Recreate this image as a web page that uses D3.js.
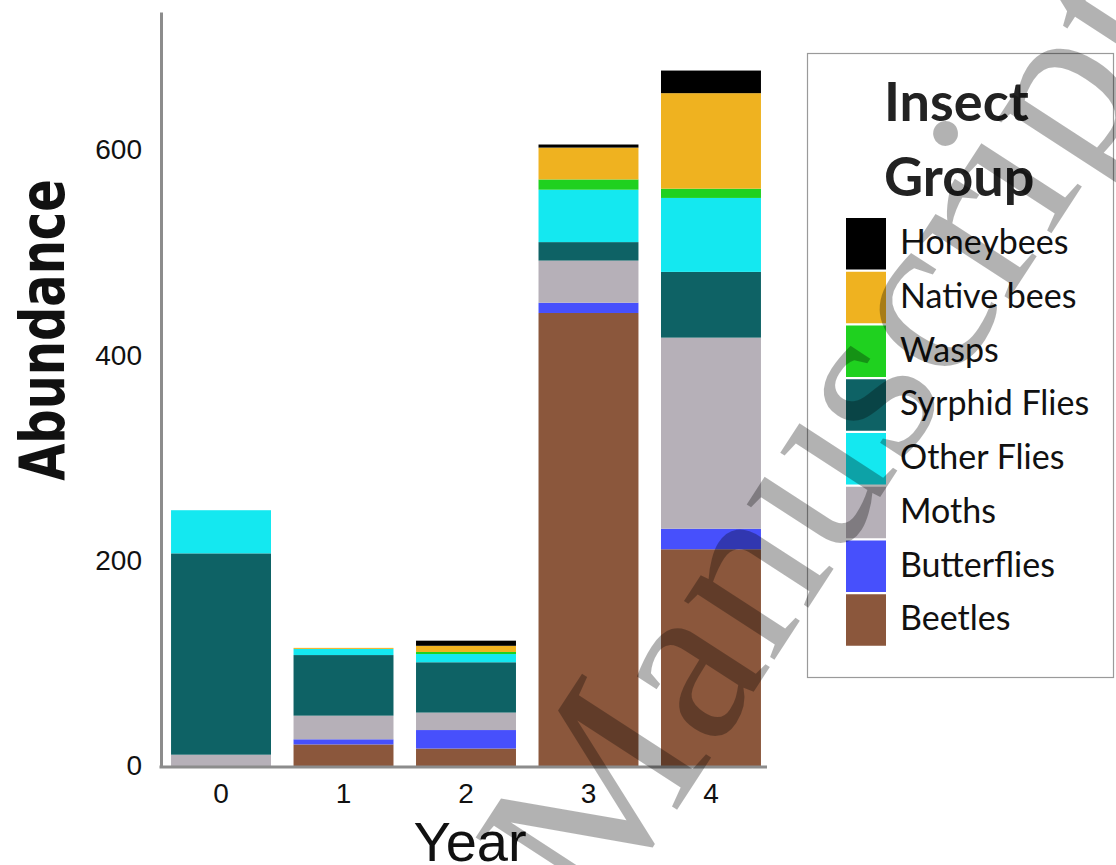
<!DOCTYPE html>
<html>
<head>
<meta charset="utf-8">
<script src="https://cdn.jsdelivr.net/npm/d3@7"></script>
<style>
  html, body { margin: 0; padding: 0; background: #fff; }
  svg { display: block; }
</style>
</head>
<body>
<svg id="chart" width="1116" height="865"></svg>
<script>
// Insect abundance per survey year, stacked by insect group (bottom to top)
const years = ["0", "1", "2", "3", "4"];
const groups = ["Beetles", "Butterflies", "Moths", "Syrphid Flies", "Other Flies", "Wasps", "Native bees", "Honeybees"];
const legendOrder = ["Honeybees", "Native bees", "Wasps", "Syrphid Flies", "Other Flies", "Moths", "Butterflies", "Beetles"];

const beetles      = [0, 21, 17, 441, 211];
const butterflies  = [0, 5, 18, 10, 20];
const moths        = [11, 23, 17, 41, 186];
const syrphidFlies = [196, 59, 49, 18, 64];
const otherFlies   = [42, 6, 8, 51, 72];
const wasps        = [0, 0, 2, 10, 9];
const nativeBees   = [0, 1, 6, 31, 93];
const honeybees    = [0, 0, 5, 3, 22];

const yTicks = [0, 200, 400, 600];

const groupColors = ["#8b573c", "#4750fc", "#b6b0b8", "#0e6265", "#14e8f0", "#1fd11f", "#efb220", "#000000"];

const seriesValues = [beetles, butterflies, moths, syrphidFlies, otherFlies, wasps, nativeBees, honeybees];

// rows for d3.stack
const rows = years.map((yr, i) => {
  const r = { year: yr };
  groups.forEach((g, k) => { r[g] = seriesValues[k][i]; });
  return r;
});

const svg = d3.select("#chart");

const x = d3.scaleBand().domain(years).range([161, 771]).paddingInner(0.184).paddingOuter(0.082);
const y = d3.scaleLinear().domain([0, 734]).range([766, 12]);
const color = d3.scaleOrdinal().domain(groups).range(groupColors);

const stacked = d3.stack().keys(groups)(rows);

// stacked bars
svg.append("g")
  .selectAll("g")
  .data(stacked)
  .join("g")
  .attr("fill", d => color(d.key))
  .selectAll("rect")
  .data(d => d)
  .join("rect")
  .attr("x", d => x(d.data.year))
  .attr("width", x.bandwidth())
  .attr("y", d => y(d[1]))
  .attr("height", d => Math.max(0, y(d[0]) - y(d[1])));

// axes
const axisColor = "#8c8c8c";

const yAxis = svg.append("g")
  .attr("transform", "translate(161,0)")
  .call(d3.axisLeft(y).tickValues(yTicks).tickSize(0).tickPadding(19).tickFormat(d3.format("d")));
yAxis.select(".domain").attr("stroke", axisColor).attr("stroke-width", 3);
yAxis.selectAll("text")
  .attr("font-family", "'Liberation Sans', Arial, sans-serif")
  .attr("font-size", 28)
  .attr("fill", "#111");

const xAxis = svg.append("g")
  .attr("transform", "translate(0,767)")
  .call(d3.axisBottom(x).tickSize(0).tickPadding(16));
xAxis.select(".domain").remove();
xAxis.selectAll("text")
  .attr("font-family", "'Liberation Sans', Arial, sans-serif")
  .attr("font-size", 28)
  .attr("fill", "#111");

svg.append("line")
  .attr("x1", 159.5).attr("x2", 767)
  .attr("y1", 767).attr("y2", 767)
  .attr("stroke", axisColor).attr("stroke-width", 3);

// axis titles
svg.append("text")
  .attr("transform", "translate(64,330) rotate(-90) scale(0.86,1)")
  .attr("text-anchor", "middle")
  .attr("font-family", "'Liberation Sans Narrow', 'DejaVu Sans Condensed', sans-serif")
  .attr("font-weight", "bold")
  .attr("font-size", 62)
  .attr("fill", "#111")
  .text("Abundance");

svg.append("text")
  .attr("x", 470).attr("y", 861)
  .attr("text-anchor", "middle")
  .attr("font-family", "'Liberation Sans', Arial, sans-serif")
  .attr("font-size", 56)
  .attr("fill", "#111")
  .text("Year");

// legend
const legend = svg.append("g");
legend.append("rect")
  .attr("x", 807.5).attr("y", 53.5)
  .attr("width", 306).attr("height", 624)
  .attr("fill", "#fff")
  .attr("stroke", "#9a9a9a").attr("stroke-width", 1.2);

legend.append("text")
  .attr("font-family", "Lato, 'Open Sans', sans-serif")
  .attr("font-weight", "bold")
  .attr("font-size", 54)
  .attr("fill", "#222")
  .selectAll("tspan")
  .data(["Insect", "Group"])
  .join("tspan")
  .attr("x", 884)
  .attr("y", (d, i) => 121 + i * 75)
  .text(d => d);

const item = legend.selectAll("g.item")
  .data(legendOrder)
  .join("g")
  .attr("class", "item")
  .attr("transform", (d, i) => `translate(846,${218 + i * 53.75})`);
item.append("rect")
  .attr("width", 40).attr("height", 51.5)
  .attr("fill", d => color(d));
item.append("text")
  .attr("x", 54).attr("y", 36)
  .attr("font-family", "Lato, 'Open Sans', sans-serif")
  .attr("font-size", 34)
  .attr("fill", "#111")
  .text(d => d);

// diagonal watermark stamp
svg.append("text")
  .attr("transform", "translate(601,927) rotate(-57)")
  .attr("font-family", "'Liberation Serif', 'Times New Roman', serif")
  .attr("font-size", 235)
  .attr("fill", "rgba(0,0,0,0.3)")
  .attr("pointer-events", "none")
  .text("Manuscript");
</script>
</body>
</html>
